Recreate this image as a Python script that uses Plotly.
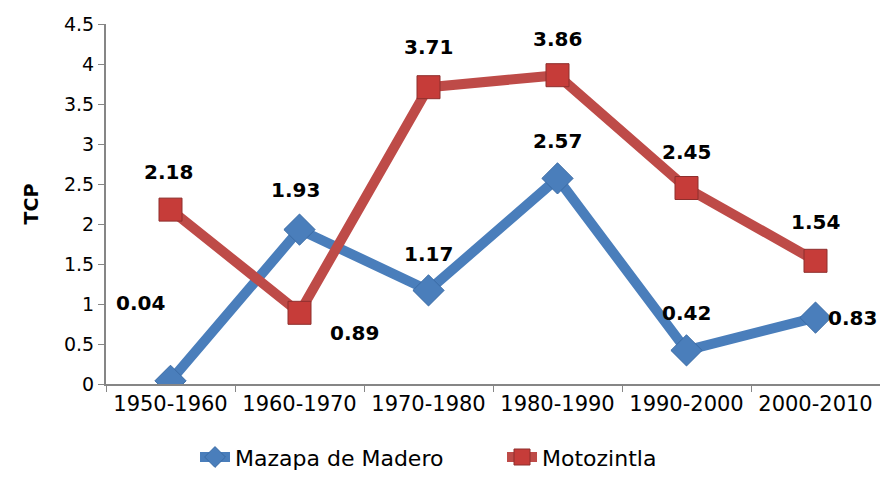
import plotly.graph_objects as go

# periods and growth rates (TCP)
periods = ['1950-1960', '1960-1970', '1970-1980', '1980-1990', '1990-2000', '2000-2010']
mazapa = [0.04, 1.93, 1.17, 2.57, 0.42, 0.83]
motozintla = [2.18, 0.89, 3.71, 3.86, 2.45, 1.54]
y_ticks = [0, 0.5, 1, 1.5, 2, 2.5, 3, 3.5, 4, 4.5]

blue = '#4A7EBB'
red = '#BE4B48'

# label offsets (px) for each point
mazapa_shift = [(-30, 78), (-4, 40), (0, 36), (0, 37), (0, 37), (37, 0)]
moto_shift = [(-2, 38), (55, -20), (0, 40), (0, 36), (0, 36), (0, 39)]

fig = go.Figure()

fig.add_trace(go.Scatter(
    x=periods, y=mazapa, name='Mazapa de Madero',
    mode='lines+markers',
    line=dict(color=blue, width=10),
    marker=dict(symbol='diamond', size=24, color=blue,
                line=dict(color='#3A6BA5', width=1)),
))
fig.add_trace(go.Scatter(
    x=periods, y=motozintla, name='Motozintla',
    mode='lines+markers',
    line=dict(color=red, width=10),
    marker=dict(symbol='square', size=23, color='#C63C39',
                line=dict(color='#8E2F2D', width=1)),
))

label_font = dict(family='DejaVu Sans', size=20, color='black', weight='bold')
for vals, shifts in ((mazapa, mazapa_shift), (motozintla, moto_shift)):
    for p, v, (dx, dy) in zip(periods, vals, shifts):
        fig.add_annotation(x=p, y=v, text=f'{v:.2f}', showarrow=False,
                           xshift=dx, yshift=dy, font=label_font)

fig.update_layout(
    width=880, height=489,
    margin=dict(l=106, r=0, t=24, b=105, autoexpand=False),
    plot_bgcolor='white', paper_bgcolor='white',
    showlegend=True,
    legend=dict(orientation='h', x=0.115, xanchor='left', y=-0.145, yanchor='top',
                font=dict(family='DejaVu Sans', size=22, color='black'),
                entrywidth=262, entrywidthmode='pixels', traceorder='normal'),
    xaxis=dict(
        type='category', showgrid=False, zeroline=False, automargin=False,
        showline=True, linecolor='#868686', linewidth=2,
        ticks='outside', ticklen=6, tickcolor='#868686',
        tickson='boundaries', tickangle=0,
        tickfont=dict(family='DejaVu Sans', size=21, color='black'),
        range=[-0.5, 5.5],
    ),
    yaxis=dict(
        range=[0, 4.5], tickvals=y_ticks, showgrid=False, zeroline=False,
        automargin=False,
        showline=True, linecolor='#868686', linewidth=2,
        ticks='outside', ticklen=6, tickcolor='#868686',
        tickfont=dict(family='DejaVu Sans', size=19, color='black'),
        title=dict(text='<b>TCP</b>', font=dict(family='DejaVu Sans', size=19, color='black'),
                   standoff=20),
    ),
)

# drop the default body margin so the figure fills the window
fig.write_html('out.html', config={'displayModeBar': False},
               post_script="document.body.style.margin='0';")
